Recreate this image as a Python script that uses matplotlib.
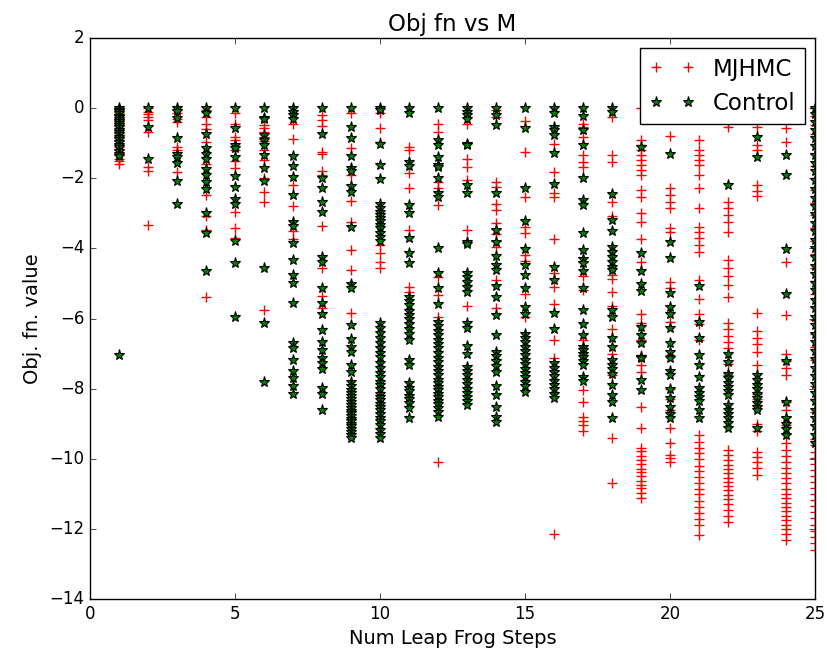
import matplotlib
matplotlib.use('Agg')
import matplotlib.pyplot as plt

plt.style.use('classic')

# Leap frog step counts on the x axis
steps = [1, 2, 3, 4, 5, 6, 7, 8, 9, 10, 11, 12, 13, 14, 15, 16, 17, 18, 19, 20,
         21, 22, 23, 24, 25]

# Objective function values per step count, MJHMC sampler
mjhmc_vals = [
    [0, -0.06, -0.12, -0.18, -0.27, -0.35, -0.44, -0.52, -0.6, -0.71, -0.79, -0.86,
     -0.95, -1.02, -1.1, -1.18, -1.27, -1.35, -1.44, -1.52, -1.58],
    [0, -0.12, -0.18, -0.25, -0.35, -0.67, -1.67, -1.8, -3.32],
    [-0.05, -0.15, -0.3, -0.4, -1.1, -1.2, -1.83],
    [-0.05, -0.25, -0.44, -0.6, -0.96, -1.58, -2.48, -3.07, -3.48, -5.38],
    [-0.15, -0.44, -0.82, -0.92, -1.2, -1.51, -1.7, -2.96, -3.41, -3.7],
    [-0.48, -0.57, -0.67, -0.81, -0.95, -1.2, -1.48, -2.0, -2.39, -2.67, -5.76],
    [-0.46, -0.87, -2.2, -2.78, -3.51, -3.74],
    [-0.2, -0.34, -0.5, -1.26, -1.32, -1.8, -1.91, -3.36, -4.57, -5.36, -5.71],
    [-0.15, -1.15, -1.91, -2.65, -3.24, -4.05, -4.62, -5.83],
    [-0.15, -0.58, -0.96, -3.9, -4.14, -4.38, -4.57],
    [-1.1, -1.2, -1.86, -2.29, -3.48, -5.1, -5.25],
    [-0.44, -0.67, -2.12, -2.29, -2.77, -4.81, -5.33, -5.95, -10.08],
    [-0.44, -1.44, -1.67, -2.05, -3.48, -5.64],
    [-0.05, -0.25, -2.1, -2.24, -2.72, -2.9, -3.29, -3.45, -3.6, -3.78, -3.95, -4.9,
     -5.71, -7.19],
    [-0.37, -1.25, -2.53, -3.38, -3.55, -4.19, -4.35, -5.29, -5.95],
    [-1.01, -1.82, -2.43, -2.53, -3.74, -4.71, -5.09, -5.6, -6.6, -7.12, -12.16],
    [-0.44, -0.53, -0.82, -1.34, -1.53, -1.67, -4.4, -4.8, -5.2, -6.6, -8.04, -8.37,
     -8.8, -8.92, -9.05, -9.21],
    [-0.25, -1.34, -1.53, -2.67, -3.07, -4.76, -4.86, -5.24, -5.64, -6.3, -7.0, -7.6,
     -9.42, -10.7],
    [0, -0.91, -1.05, -1.2, -1.34, -1.48, -1.62, -1.77, -1.91, -2.34, -2.53, -3.0,
     -3.24, -3.72, -4.38, -5.86, -6.14, -6.62, -7.04, -7.33, -7.52, -8.52, -9.13,
     -9.7, -9.79, -9.93, -10.04, -10.15, -10.29, -10.38, -10.5, -10.63, -10.75,
     -10.84, -10.97, -11.13],
    [-0.79, -2.29, -2.48, -2.67, -2.86, -3.43, -3.52, -4.95, -5.14, -6.09, -7.04,
     -8.0, -8.3, -8.6, -9.13, -9.56, -9.9, -9.99, -10.08],
    [-0.91, -1.2, -1.34, -1.48, -1.62, -1.91, -2.29, -2.86, -3.38, -3.52, -3.71,
     -3.9, -4.1, -4.9, -5.43, -5.86, -6.17, -6.62, -9.33, -9.52, -9.7, -9.85,
     -10.02, -10.2, -10.35, -10.52, -10.68, -10.85, -11.0, -11.2, -11.38, -11.55,
     -11.72, -11.9, -12.18],
    [-0.43, -0.53, -2.67, -2.85, -3.05, -3.25, -3.53, -4.33, -4.55, -4.8, -5.05,
     -5.38, -6.14, -6.3, -6.5, -6.68, -6.85, -7.3, -7.6, -9.75, -9.9, -10.05,
     -10.18, -10.3, -10.42, -10.55, -10.66, -10.78, -10.9, -11.02, -11.15, -11.3,
     -11.45, -11.62, -11.8],
    [-0.53, -1.06, -1.2, -2.2, -2.36, -2.5, -5.83, -6.35, -6.55, -6.72, -6.95, -7.33,
     -7.95, -8.15, -8.3, -8.47, -9.0, -9.2, -9.8, -9.95, -10.1, -10.25, -10.47],
    [0, -0.58, -0.96, -4.38, -5.9, -7.0, -7.2, -7.4, -7.62, -8.37, -8.6, -8.8, -9.05,
     -9.3, -9.55, -9.75, -9.92, -10.1, -10.25, -10.4, -10.55, -10.7, -10.85, -11.0,
     -11.12, -11.25, -11.38, -11.5, -11.62, -11.75, -11.88, -12.0, -12.15, -12.32],
    [0, -0.21, -0.47, -0.73, -1.02, -1.31, -1.66, -1.98, -2.33, -2.71, -3.05, -3.42,
     -3.8, -4.17, -4.55, -4.92, -5.31, -5.68, -6.04, -6.43, -6.8, -7.18, -7.57,
     -7.93, -8.3, -8.68, -9.05, -9.44, -9.62, -9.8, -9.97, -10.15, -10.31, -10.48,
     -10.66, -10.83, -11.0, -11.18, -11.35, -11.52, -11.7, -11.88, -12.05, -12.23,
     -12.41, -12.6],
]

# Objective function values per step count, control sampler
control_vals = [
    [0, -0.04, -0.09, -0.13, -0.21, -0.26, -0.32, -0.38, -0.41, -0.47, -0.55, -0.62,
     -0.68, -0.74, -0.83, -0.88, -0.97, -1.04, -1.12, -1.21, -1.3, -1.37, -7.05],
    [0, -0.53, -1.45],
    [0, -0.08, -0.28, -0.85, -1.3, -1.39, -1.56, -2.08, -2.72],
    [0, -0.15, -0.75, -1.15, -1.3, -1.44, -1.74, -1.91, -2.12, -2.32, -2.98, -3.57,
     -4.64],
    [0, -0.58, -1.06, -1.15, -1.39, -1.94, -2.24, -2.6, -2.72, -3.79, -4.41, -5.95],
    [0, -0.28, -0.32, -0.77, -0.91, -1.04, -1.34, -1.7, -2.08, -4.55, -6.12, -7.82],
    [0, -0.1, -0.19, -0.31, -1.36, -1.64, -1.96, -2.48, -3.24, -3.36, -3.84, -4.32,
     -4.76, -5.0, -5.57, -6.69, -6.85, -7.19, -7.5, -7.71, -7.93, -8.16],
    [0, -0.75, -1.99, -2.29, -2.69, -2.96, -4.24, -4.38, -5.14, -5.57, -5.86, -6.33,
     -6.66, -6.9, -7.14, -7.28, -7.44, -7.98, -8.16, -8.61],
    [0, -0.55, -0.85, -1.36, -1.7, -1.79, -2.21, -2.4, -3.38, -5.03, -5.14, -6.19,
     -6.59, -6.81, -6.95, -7.33, -7.52, -7.8, -7.92, -8.05, -8.13, -8.22, -8.3,
     -8.38, -8.47, -8.55, -8.63, -8.7, -8.78, -8.86, -8.92, -9.0, -9.08, -9.15,
     -9.24, -9.33, -9.42],
    [0, -0.05, -1.01, -1.63, -2.02, -2.72, -2.84, -2.95, -3.05, -3.13, -3.22, -3.33,
     -3.42, -3.55, -3.68, -3.8, -6.12, -6.28, -6.42, -6.55, -6.7, -6.85, -6.97,
     -7.1, -7.28, -7.41, -7.55, -7.68, -7.8, -7.9, -8.02, -8.14, -8.24, -8.33,
     -8.43, -8.52, -8.62, -8.72, -8.83, -8.93, -9.05, -9.17, -9.3, -9.42],
    [0, -0.15, -1.53, -1.64, -2.77, -3.0, -3.7, -4.14, -4.43, -5.38, -5.5, -5.62,
     -5.78, -5.9, -6.02, -6.15, -6.3, -6.45, -6.6, -7.19, -7.33, -7.85, -7.97,
     -8.08, -8.2, -8.3, -8.42, -8.55, -8.83],
    [0, -0.91, -1.05, -1.39, -1.63, -1.68, -2.0, -2.43, -2.53, -4.0, -4.71, -5.14,
     -5.6, -6.1, -6.22, -6.35, -6.47, -6.6, -6.72, -6.85, -6.98, -7.12, -7.25,
     -7.38, -7.5, -7.62, -7.75, -7.85, -7.95, -8.05, -8.15, -8.25, -8.35, -8.45,
     -8.55, -8.66, -8.8],
    [0, -0.1, -0.2, -0.31, -1.01, -1.06, -2.18, -2.43, -3.81, -3.88, -4.71, -4.82,
     -4.95, -5.1, -5.24, -6.14, -6.28, -6.78, -7.0, -7.38, -7.5, -7.62, -7.75,
     -7.88, -8.0, -8.12, -8.24, -8.36, -8.47],
    [0, -0.2, -0.48, -2.43, -3.48, -3.81, -4.21, -4.48, -4.62, -5.07, -5.38, -5.9,
     -6.47, -6.95, -7.08, -7.2, -7.35, -7.52, -7.92, -8.19, -8.52, -8.8, -8.94],
    [0, -0.56, -2.29, -3.22, -4.02, -4.46, -4.76, -5.12, -5.68, -5.86, -6.43, -6.55,
     -6.68, -6.8, -6.93, -7.05, -7.18, -7.3, -7.43, -7.55, -7.68, -7.8, -7.92,
     -8.09],
    [0, -0.15, -0.53, -0.63, -0.77, -1.29, -2.15, -4.52, -4.9, -5.83, -6.31, -7.28,
     -7.4, -7.52, -7.65, -7.78, -7.9, -8.02, -8.15, -8.28],
    [0, -0.22, -0.63, -1.06, -1.99, -2.62, -2.76, -3.57, -4.05, -4.29, -4.43, -4.65,
     -5.12, -5.76, -6.17, -6.47, -6.8, -6.9, -7.0, -7.1, -7.2, -7.33, -7.66,
     -7.79],
    [0, -0.1, -2.46, -3.19, -3.51, -3.95, -4.1, -4.25, -4.4, -4.52, -4.62, -5.76,
     -5.95, -6.55, -6.81, -7.19, -7.32, -7.45, -7.57, -7.9, -8.19, -8.37, -8.85],
    [-1.1, -4.12, -4.65, -5.03, -5.22, -6.24, -6.46, -6.71, -7.09, -7.14, -7.76,
     -8.04],
    [-1.32, -3.81, -4.27, -5.26, -5.67, -5.86, -6.28, -6.71, -6.95, -7.14, -7.5,
     -7.62, -8.0, -8.28, -8.52, -8.71, -8.85],
    [-5.07, -6.09, -6.57, -7.04, -7.34, -7.66, -7.99, -8.12, -8.25, -8.36, -8.61,
     -8.85],
    [-2.2, -7.0, -7.24, -7.57, -7.7, -7.83, -7.95, -8.07, -8.19, -8.47, -8.6, -8.72,
     -8.85, -8.98, -9.13],
    [-0.82, -1.39, -7.6, -7.75, -7.9, -8.02, -8.14, -8.27, -8.4, -8.52, -8.61, -9.13],
    [-1.34, -1.91, -4.02, -5.29, -7.21, -8.39, -8.85, -9.0, -9.15, -9.33],
    [0, -0.18, -0.39, -0.61, -0.84, -1.09, -1.33, -1.57, -1.8, -2.06, -2.3, -2.55,
     -2.79, -3.02, -3.28, -3.51, -3.77, -4.0, -4.25, -4.49, -4.73, -4.98, -5.2,
     -5.46, -5.7, -5.95, -6.18, -6.43, -6.67, -6.92, -7.15, -7.4, -7.63, -7.88,
     -8.12, -8.36, -8.6, -8.84, -9.08, -9.31, -9.55],
]

fig = plt.figure(figsize=(8.28, 6.58), dpi=100)
ax = fig.add_axes([0.1087, 0.0897, 0.8756, 0.8525])

mj_x, mj_y, ct_x, ct_y = [], [], [], []
for s, mv, cv in zip(steps, mjhmc_vals, control_vals):
    mj_x += [s] * len(mv)
    mj_y += mv
    ct_x += [s] * len(cv)
    ct_y += cv

ax.plot(mj_x, mj_y, 'r+', markersize=7.5, markeredgewidth=1.0, label='MJHMC')
ax.plot(ct_x, ct_y, 'g*', markersize=8, markeredgecolor='k',
        markeredgewidth=0.8, label='Control')

ax.set_xlim(0, 25)
ax.set_ylim(-14, 2)
ax.set_xticks([0, 5, 10, 15, 20, 25])
ax.set_yticks([-14, -12, -10, -8, -6, -4, -2, 0, 2])
ax.tick_params(labelsize=12)

ax.set_title('Obj fn vs M', fontsize=16.5)
ax.set_xlabel('Num Leap Frog Steps', fontsize=14)
ax.set_ylabel('Obj. fn. value', fontsize=14)
ax.legend(loc='upper right', numpoints=2, fontsize=16.5, borderaxespad=0.45)

fig.savefig('out.png', dpi=100)
